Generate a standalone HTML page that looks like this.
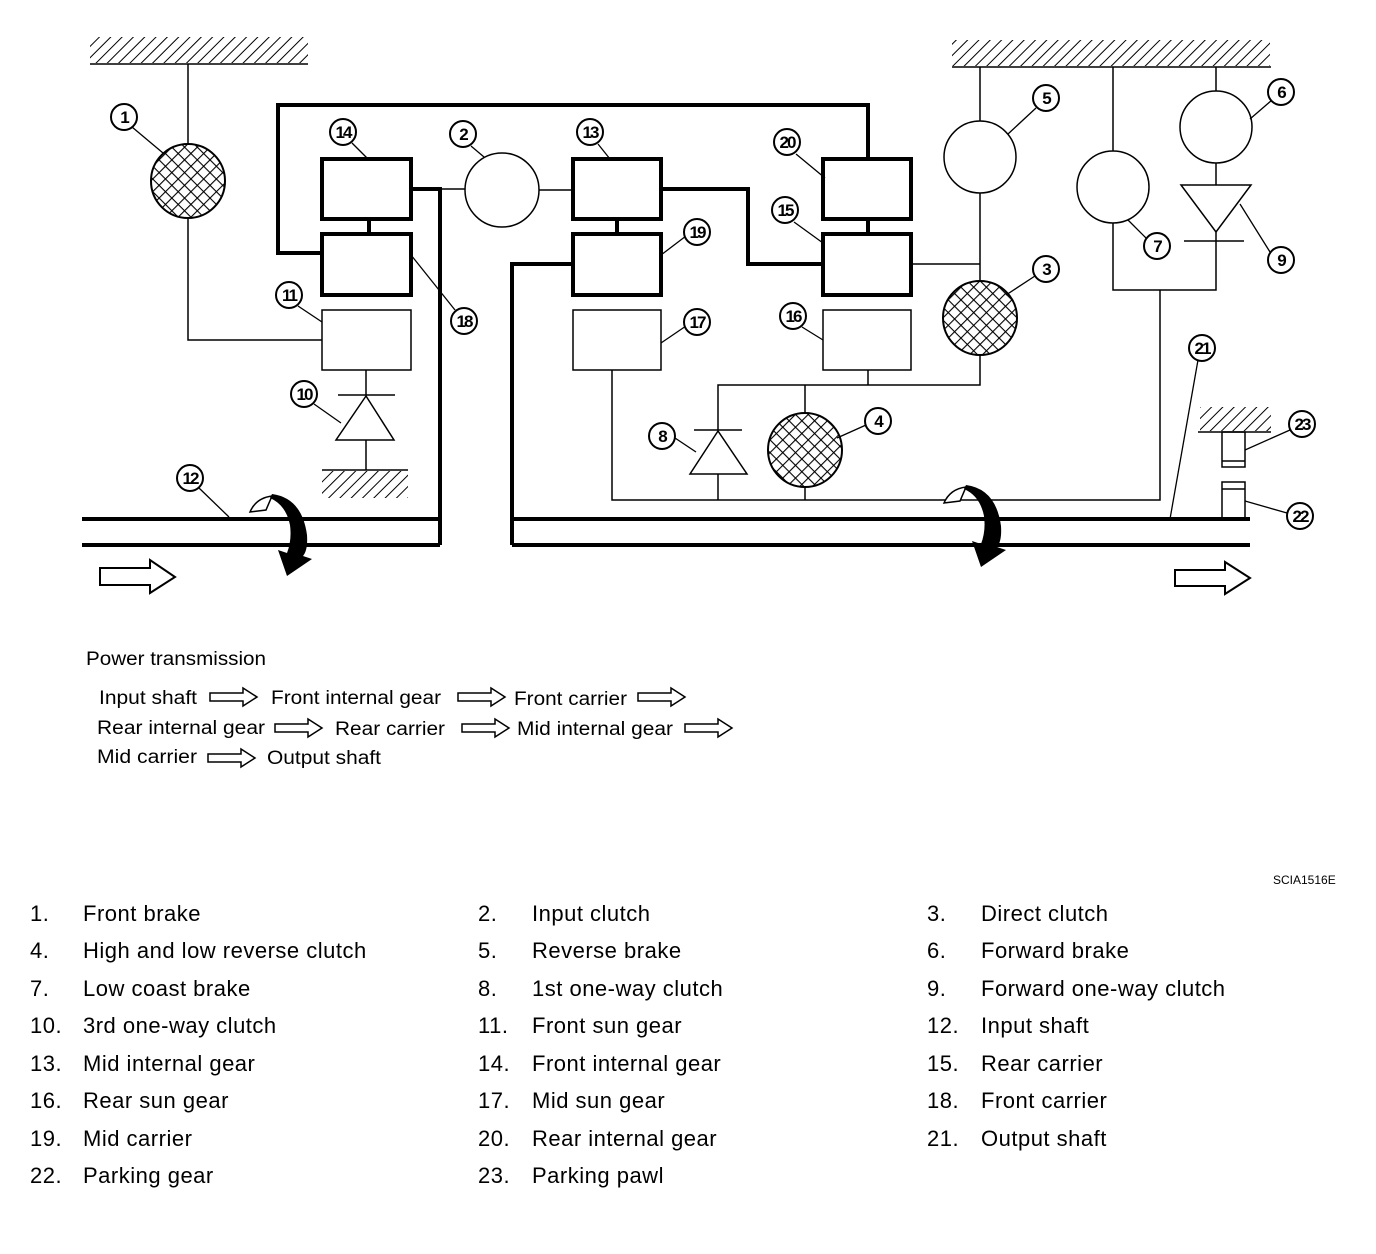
<!DOCTYPE html>
<html><head><meta charset="utf-8"><style>
html,body{margin:0;padding:0;background:#fff;}
svg{display:block;font-family:"Liberation Sans",sans-serif;}
.t{stroke:#000;stroke-width:1.5;fill:none}
.k{stroke:#000;stroke-width:4;fill:none}
.lb circle{fill:#fff;stroke:#000;stroke-width:2}
.lb text{font-size:17px;font-weight:bold;text-anchor:middle;letter-spacing:-2px}
.ld{stroke:#000;stroke-width:1.3}
.lg{font-size:19px}
.li{font-size:22px;letter-spacing:0.5px}
</style></head><body>
<svg width="1376" height="1254" viewBox="0 0 1376 1254" xmlns="http://www.w3.org/2000/svg">
<defs>
<pattern id="h" width="8" height="8" patternUnits="userSpaceOnUse" patternTransform="rotate(45)">
<line x1="0" y1="0" x2="0" y2="8" stroke="#000" stroke-width="2"/></pattern>
<pattern id="x" width="9" height="9" patternUnits="userSpaceOnUse" patternTransform="rotate(45)">
<rect width="9" height="9" fill="#fff"/>
<line x1="0" y1="0" x2="0" y2="9" stroke="#000" stroke-width="2.2"/>
<line x1="0" y1="0" x2="9" y2="0" stroke="#000" stroke-width="2.2"/></pattern>
</defs>

<rect x="90" y="37" width="218" height="26" fill="url(#h)"/><line x1="90" y1="64" x2="308" y2="64" class="t" stroke-width="2"/>
<rect x="952" y="40" width="318" height="26" fill="url(#h)"/><line x1="952" y1="67" x2="1271" y2="67" class="t" stroke-width="2"/>
<rect x="322" y="471" width="86" height="27" fill="url(#h)"/><line x1="322" y1="470" x2="408" y2="470" class="t" stroke-width="2"/>
<rect x="1200" y="407" width="71" height="24" fill="url(#h)"/><line x1="1198" y1="432" x2="1271" y2="432" class="t" stroke-width="2"/>

<line x1="188" y1="64" x2="188" y2="144" class="t"/>
<circle cx="188" cy="181" r="37" fill="url(#x)" stroke="#000" stroke-width="2"/>
<polyline points="188,218 188,340 322,340" class="t"/>
<polyline points="322,253 278,253 278,105 868,105 868,159" class="k"/>
<rect x="322" y="159" width="89" height="60" class="k"/>
<rect x="322" y="234" width="89" height="61" class="k"/>
<line x1="369" y1="219" x2="369" y2="234" class="k" stroke-width="3"/>
<rect x="322" y="310" width="89" height="60" class="t"/>
<line x1="366" y1="370" x2="366" y2="395" class="t"/>
<line x1="338" y1="395" x2="395" y2="395" class="t"/>
<polygon points="366,396 336,440 394,440" class="t"/>
<line x1="366" y1="440" x2="366" y2="470" class="t"/>
<polyline points="411,189 440,189 440,545" class="k"/>
<line x1="440" y1="189" x2="465" y2="189" class="t"/>
<circle cx="502" cy="190" r="37" class="t"/>
<line x1="539" y1="190" x2="573" y2="190" class="t"/>
<line x1="82" y1="519" x2="440" y2="519" class="k"/>
<line x1="82" y1="545" x2="440" y2="545" class="k"/>

<rect x="573" y="159" width="88" height="60" class="k"/>
<rect x="573" y="234" width="88" height="61" class="k"/>
<line x1="617" y1="219" x2="617" y2="234" class="k" stroke-width="3"/>
<rect x="573" y="310" width="88" height="60" class="t"/>
<polyline points="573,264 512,264 512,545" class="k"/>
<line x1="512" y1="519" x2="1250" y2="519" class="k"/>
<line x1="512" y1="545" x2="1250" y2="545" class="k"/>
<polyline points="661,189 748,189 748,264 823,264" class="k"/>
<rect x="823" y="159" width="88" height="60" class="k"/>
<rect x="823" y="234" width="88" height="61" class="k"/>
<line x1="868" y1="219" x2="868" y2="234" class="k" stroke-width="3"/>
<rect x="823" y="310" width="88" height="60" class="t"/>
<line x1="911" y1="264" x2="980" y2="264" class="t"/>
<line x1="980" y1="67" x2="980" y2="121" class="t"/>
<circle cx="980" cy="157" r="36" class="t"/>
<line x1="980" y1="193" x2="980" y2="281" class="t"/>
<circle cx="980" cy="318" r="37" fill="url(#x)" stroke="#000" stroke-width="2"/>
<polyline points="980,355 980,385 718,385 718,430" class="t"/>
<line x1="868" y1="370" x2="868" y2="385" class="t"/>
<line x1="805" y1="385" x2="805" y2="413" class="t"/>
<circle cx="805" cy="450" r="37" fill="url(#x)" stroke="#000" stroke-width="2"/>
<line x1="805" y1="487" x2="805" y2="500" class="t"/>
<line x1="694" y1="430" x2="742" y2="430" class="t"/>
<polygon points="718,431 690,474 747,474" class="t"/>
<line x1="718" y1="474" x2="718" y2="500" class="t"/>
<polyline points="612,370 612,500 1160,500 1160,290" class="t"/>

<line x1="1113" y1="67" x2="1113" y2="151" class="t"/>
<circle cx="1113" cy="187" r="36" class="t"/>
<polyline points="1113,223 1113,290 1216,290 1216,241" class="t"/>
<line x1="1216" y1="67" x2="1216" y2="91" class="t"/>
<circle cx="1216" cy="127" r="36" class="t"/>
<line x1="1216" y1="163" x2="1216" y2="185" class="t"/>
<polygon points="1181,185 1251,185 1216,232" class="t"/>
<line x1="1184" y1="241" x2="1244" y2="241" class="t"/>
<line x1="1216" y1="232" x2="1216" y2="241" class="t"/>
<rect x="1222" y="432" width="23" height="35" class="t"/><line x1="1222" y1="461" x2="1245" y2="461" class="t"/>
<rect x="1222" y="482" width="23" height="37" class="t"/><line x1="1222" y1="489" x2="1245" y2="489" class="t"/>

<g id="ca">
<path d="M250,512 Q256,498 272,496 L266,510 Z" fill="#fff" stroke="#000" stroke-width="1.5"/>
<path d="M272,494 Q302,498 307,535 Q308,550 303,556 L312,559 L287,576 L278,550 L287,553 Q292,540 290,525 Q286,505 270,498 Z" fill="#000"/>
</g>
<use href="#ca" transform="translate(694,-9)"/>

<polygon points="100,568 150,568 150,560 175,577 150,593 150,585 100,585" fill="#fff" stroke="#000" stroke-width="2"/>
<polygon points="1175,570 1225,570 1225,562 1250,578 1225,594 1225,586 1175,586" fill="#fff" stroke="#000" stroke-width="2"/>

<g class="ld">
<line x1="132" y1="127" x2="163" y2="153"/>
<line x1="352" y1="143" x2="368" y2="159"/>
<line x1="471" y1="146" x2="484" y2="157"/>
<line x1="598" y1="144" x2="610" y2="159"/>
<line x1="796" y1="154" x2="825" y2="178"/>
<line x1="794" y1="222" x2="823" y2="243"/>
<line x1="686" y1="236" x2="661" y2="255"/>
<line x1="411" y1="255" x2="455" y2="310"/>
<line x1="298" y1="306" x2="322" y2="322"/>
<line x1="686" y1="326" x2="661" y2="343"/>
<line x1="802" y1="327" x2="823" y2="340"/>
<line x1="314" y1="404" x2="341" y2="423"/>
<line x1="675" y1="438" x2="696" y2="452"/>
<line x1="866" y1="425" x2="837" y2="438"/>
<line x1="1035" y1="276" x2="1006" y2="295"/>
<line x1="1036" y1="108" x2="1008" y2="134"/>
<line x1="1272" y1="100" x2="1250" y2="119"/>
<line x1="1147" y1="239" x2="1128" y2="220"/>
<line x1="1270" y1="252" x2="1240" y2="204"/>
<line x1="1198" y1="360" x2="1170" y2="519"/>
<line x1="1290" y1="430" x2="1245" y2="450"/>
<line x1="1287" y1="513" x2="1245" y2="501"/>
<line x1="199" y1="488" x2="229" y2="517"/>
</g>

<g class="lb">
<g transform="translate(124,117)"><circle r="13"/><text y="6">1</text></g>
<g transform="translate(343,132)"><circle r="13"/><text y="6">14</text></g>
<g transform="translate(463,134)"><circle r="13"/><text y="6">2</text></g>
<g transform="translate(590,132)"><circle r="13"/><text y="6">13</text></g>
<g transform="translate(787,142)"><circle r="13"/><text y="6">20</text></g>
<g transform="translate(785,210)"><circle r="13"/><text y="6">15</text></g>
<g transform="translate(697,232)"><circle r="13"/><text y="6">19</text></g>
<g transform="translate(464,321)"><circle r="13"/><text y="6">18</text></g>
<g transform="translate(289,295)"><circle r="13"/><text y="6">11</text></g>
<g transform="translate(697,322)"><circle r="13"/><text y="6">17</text></g>
<g transform="translate(793,316)"><circle r="13"/><text y="6">16</text></g>
<g transform="translate(304,394)"><circle r="13"/><text y="6">10</text></g>
<g transform="translate(662,436)"><circle r="13"/><text y="6">8</text></g>
<g transform="translate(878,421)"><circle r="13"/><text y="6">4</text></g>
<g transform="translate(1046,269)"><circle r="13"/><text y="6">3</text></g>
<g transform="translate(1046,98)"><circle r="13"/><text y="6">5</text></g>
<g transform="translate(1281,92)"><circle r="13"/><text y="6">6</text></g>
<g transform="translate(1157,246)"><circle r="13"/><text y="6">7</text></g>
<g transform="translate(1281,260)"><circle r="13"/><text y="6">9</text></g>
<g transform="translate(1202,348)"><circle r="13"/><text y="6">21</text></g>
<g transform="translate(1302,424)"><circle r="13"/><text y="6">23</text></g>
<g transform="translate(1300,516)"><circle r="13"/><text y="6">22</text></g>
<g transform="translate(190,478)"><circle r="13"/><text y="6">12</text></g>
</g>

<g class="lg">
<text x="86" y="665" textLength="180" lengthAdjust="spacingAndGlyphs">Power transmission</text>
<text x="99" y="704" textLength="98" lengthAdjust="spacingAndGlyphs">Input shaft</text>
<text x="271" y="704" textLength="170" lengthAdjust="spacingAndGlyphs">Front internal gear</text>
<text x="514" y="705" textLength="113" lengthAdjust="spacingAndGlyphs">Front carrier</text>
<text x="97" y="734" textLength="168" lengthAdjust="spacingAndGlyphs">Rear internal gear</text>
<text x="335" y="735" textLength="110" lengthAdjust="spacingAndGlyphs">Rear carrier</text>
<text x="517" y="735" textLength="156" lengthAdjust="spacingAndGlyphs">Mid internal gear</text>
<text x="97" y="763" textLength="100" lengthAdjust="spacingAndGlyphs">Mid carrier</text>
<text x="267" y="764" textLength="114" lengthAdjust="spacingAndGlyphs">Output shaft</text>
</g>
<g fill="#fff" stroke="#000" stroke-width="1.5">
<polygon points="210,693 243,693 243,688 257,697 243,706 243,701 210,701"/>
<polygon points="458,693 491,693 491,688 505,697 491,706 491,701 458,701"/>
<polygon points="638,693 671,693 671,688 685,697 671,706 671,701 638,701"/>
<polygon points="275,724 308,724 308,719 322,728 308,737 308,732 275,732"/>
<polygon points="462,724 495,724 495,719 509,728 495,737 495,732 462,732"/>
<polygon points="685,724 718,724 718,719 732,728 718,737 718,732 685,732"/>
<polygon points="208,754 241,754 241,749 255,758 241,767 241,762 208,762"/>
</g>
<text x="1273" y="884" font-size="12">SCIA1516E</text>

<g class="li">
<text x="30" y="921">1.</text><text x="83" y="921">Front brake</text>
<text x="478" y="921">2.</text><text x="532" y="921">Input clutch</text>
<text x="927" y="921">3.</text><text x="981" y="921">Direct clutch</text>
<text x="30" y="958">4.</text><text x="83" y="958">High and low reverse clutch</text>
<text x="478" y="958">5.</text><text x="532" y="958">Reverse brake</text>
<text x="927" y="958">6.</text><text x="981" y="958">Forward brake</text>
<text x="30" y="996">7.</text><text x="83" y="996">Low coast brake</text>
<text x="478" y="996">8.</text><text x="532" y="996">1st one-way clutch</text>
<text x="927" y="996">9.</text><text x="981" y="996">Forward one-way clutch</text>
<text x="30" y="1033">10.</text><text x="83" y="1033">3rd one-way clutch</text>
<text x="478" y="1033">11.</text><text x="532" y="1033">Front sun gear</text>
<text x="927" y="1033">12.</text><text x="981" y="1033">Input shaft</text>
<text x="30" y="1071">13.</text><text x="83" y="1071">Mid internal gear</text>
<text x="478" y="1071">14.</text><text x="532" y="1071">Front internal gear</text>
<text x="927" y="1071">15.</text><text x="981" y="1071">Rear carrier</text>
<text x="30" y="1108">16.</text><text x="83" y="1108">Rear sun gear</text>
<text x="478" y="1108">17.</text><text x="532" y="1108">Mid sun gear</text>
<text x="927" y="1108">18.</text><text x="981" y="1108">Front carrier</text>
<text x="30" y="1146">19.</text><text x="83" y="1146">Mid carrier</text>
<text x="478" y="1146">20.</text><text x="532" y="1146">Rear internal gear</text>
<text x="927" y="1146">21.</text><text x="981" y="1146">Output shaft</text>
<text x="30" y="1183">22.</text><text x="83" y="1183">Parking gear</text>
<text x="478" y="1183">23.</text><text x="532" y="1183">Parking pawl</text>
</g>
</svg>
</body></html>
